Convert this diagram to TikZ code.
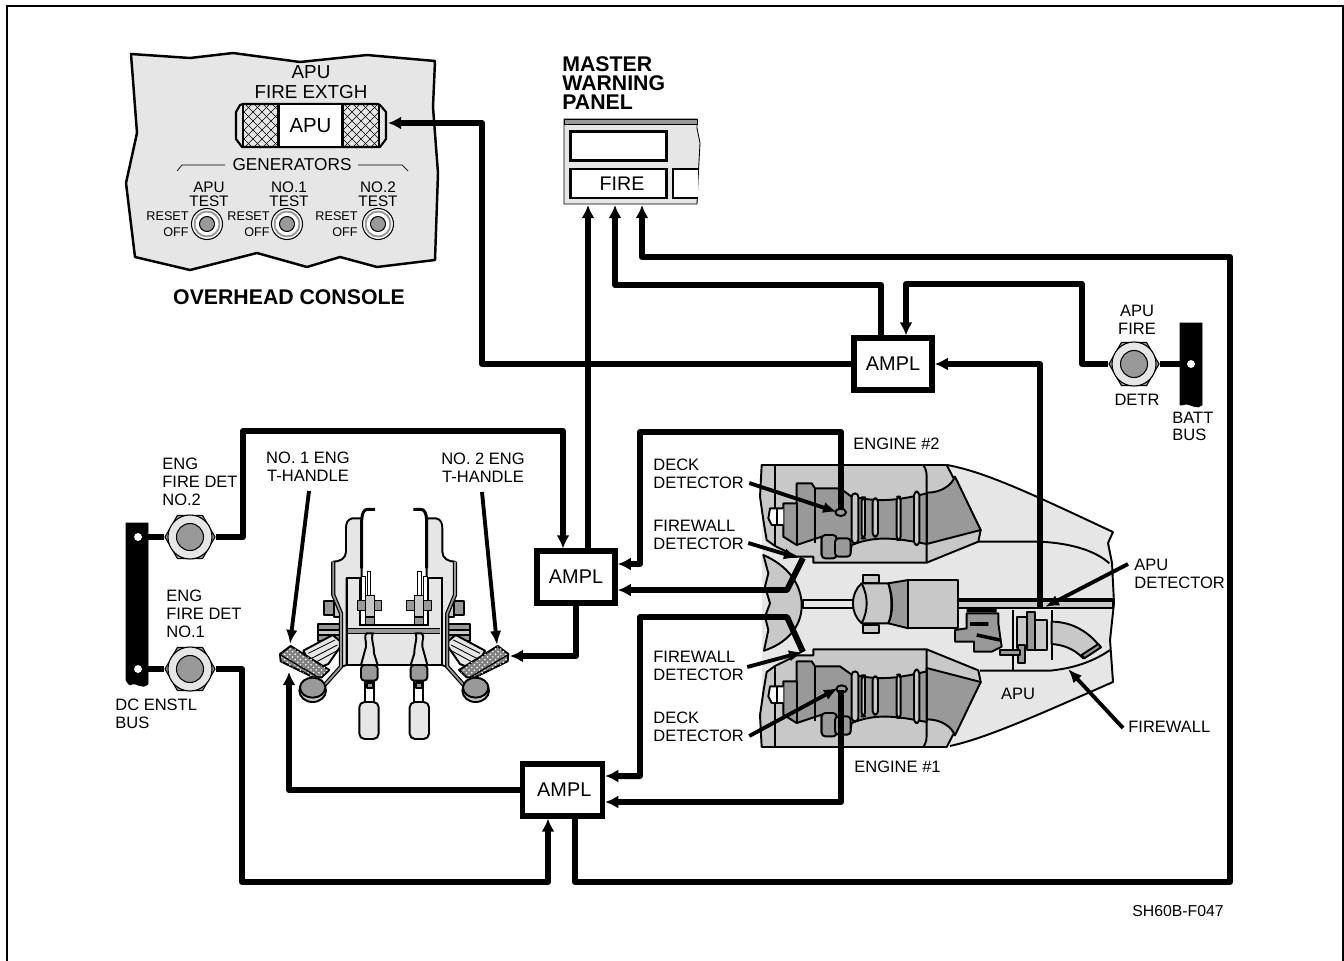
\documentclass[tikz,border=0pt]{standalone}
\usepackage{fontspec}
\setmainfont{Liberation Sans}
\usetikzlibrary{arrows.meta,shapes.geometric,patterns}
\definecolor{lightfill}{HTML}{E6E6E6}
\definecolor{softfill}{HTML}{C8C8C8}
\definecolor{darkfill}{HTML}{999999}
\tikzset{
  wire/.style={line width=3.4pt,line join=round,>={Latex[length=7.5pt,width=7.5pt]}},
  leader/.style={line width=2.2pt,>={Latex[length=8pt,width=6.5pt]}},
  amplbox/.style={draw,line width=3pt,fill=white,minimum width=44.5pt,minimum height=29.5pt,inner sep=0pt,font=\fontsize{11.3}{12}\selectfont},
  lbl/.style={inner sep=0pt,align=left,anchor=west,font=\fontsize{9.4}{10.1}\selectfont},
  lblc/.style={inner sep=0pt,align=center,font=\fontsize{9.4}{10.1}\selectfont},
  tiny/.style={inner sep=0pt,align=right,anchor=east,font=\fontsize{7.2}{9}\selectfont},
  title/.style={inner sep=0pt,align=left,font=\bfseries\fontsize{12.1}{10.8}\selectfont},
  nutbox/.style={regular polygon,regular polygon sides=6,draw,line width=.6pt,fill=darkfill,minimum size=28.5pt,inner sep=0pt},
  part/.style={draw,line width=1.1pt,line join=round},
  thin part/.style={draw,line width=.5pt},
  % one side of the engine bay, in 3x units
  nacelle half/.pic={
    \path[part,fill=softfill] (125,75) -- (680,75) -- (782,270) -- (775,305) -- (620,368) -- (280,368) -- (280,350) -- (230,350)
      -- (165,318) -- (140,300) -- (130,240) -- (120,170) -- cycle;
    \draw[part] (165,75) -- (165,318);
    % exhaust
    \path[part,fill=darkfill] (620,158) .. controls (665,158) and (695,135) .. (705,110) -- (782,270) -- (620,312) -- cycle;
    \draw[part] (610,75) .. controls (620,90) and (620,100) .. (620,120) -- (620,368);
  },
  engine core/.pic={
    \path[part,fill=darkfill] (190,190) -- (230,190) -- (230,130) -- (275,130) -- (285,145) -- (360,145) -- (395,170)
      .. controls (470,185) and (520,185) .. (620,160) -- (620,312) .. controls (530,295) and (470,285) .. (395,315)
      -- (390,345) -- (305,345) -- (305,290) -- (230,315) -- (190,290) -- cycle;
    \draw[part] (230,190) -- (230,315) (285,145) -- (285,310);
    \path[part,fill=darkfill,rounded corners=2pt] (305,285) rectangle (350,355);
    \path[part,fill=darkfill,rounded corners=2pt] (345,295) rectangle (392,350);
    % rings
    \foreach \ringx/\ringw/\ringa/\ringb in {395/20/160/310,425/10/172/295,458/16/175/290,530/12/170/300,582/16/155/315}
      \path[part,fill=softfill,rounded corners=2pt] (\ringx,\ringa) rectangle ++(\ringw,\ringb-\ringa);
    % bracket
    \path[part,fill=white] (190,205) -- (150,205) -- (145,235) -- (155,255) -- (190,255);
    \draw[part] (170,205) -- (170,255);
  },
  % one side of the handle group, in 3x units
  handle half/.pic={
    \path[part,fill=darkfill] (205,553) rectangle (290,603);
    \path[part,fill=softfill] (205,570) rectangle (290,585);
    \path[part,fill=lightfill] (160,632) -- (248,585) -- (278,610) -- (235,672) -- (190,690) -- cycle;
    \draw[thin part] (175,640) -- (255,600) (185,655) -- (262,615) (195,668) -- (265,630);
    \path[part,fill=darkfill] (222,483) rectangle (252,525);
    \path[part,fill=softfill] (252,478) rectangle (290,530);
    % side plate
    \path[part,fill=lightfill] (335,235) -- (307,235) .. controls (292,238) and (288,250) .. (288,265) -- (288,335)
      .. controls (288,355) and (270,365) .. (250,365) -- (250,465) -- (275,520) -- (275,680) -- (290,675) -- (290,415) -- (335,415) -- cycle;
    \draw[line width=2.4pt] (250,365) -- (250,465) -- (273,520) -- (273,680) -- (215,745);
    \draw[darkfill,line width=1pt] (250,365) -- (250,465) -- (273,520) -- (273,680) -- (215,745);
    % centre body
    \fill[lightfill] (290,415) -- (330,415) -- (330,555) -- (433,555) -- (433,675) -- (290,675) -- cycle;
    \draw[line width=1.3pt] (433,675) -- (290,675) -- (290,415) -- (330,415) -- (330,555) -- (433,555);
    \fill[darkfill] (295,565) rectangle (433,579);
    \draw[line width=.5pt] (295,565) -- (433,565) (295,579) -- (433,579);
    % rods inside
    \path[thin part,fill=white] (334,410) rectangle (345,490);
    \path[thin part,fill=white] (352,395) rectangle (362,500);
    \path[thin part,fill=darkfill] (322,480) rectangle (395,512);
    \path[thin part,fill=softfill] (345,465) rectangle (372,530);
    \path[thin part,fill=darkfill] (345,532) rectangle (372,553);
    \draw[line width=1.7pt] (375,208) -- (352,208) .. controls (342,208) and (336,220) .. (335,240) -- (335,385);
    % lever and grip
    \draw[line width=1.1pt,fill=lightfill] (348,620) .. controls (350,600) and (340,590) .. (350,580) -- (368,580)
      .. controls (362,600) and (372,610) .. (372,640) -- (383,675) -- (333,675) -- cycle;
    \path[part,fill=darkfill,rounded corners=2pt] (333,675) rectangle (383,722);
    \path[part,fill=white] (346,722) rectangle (372,788);
    \path[part,fill=darkfill] (350,730) rectangle (368,745);
    \path[part,fill=lightfill,rounded corners=3pt] (328,786) rectangle (386,897);
    % knob
    \path[part,fill=softfill] (188,752) ellipse (40 and 34);
    \path[part,fill=darkfill] (188,743) ellipse (38 and 30);
    % hatched grip
    \path[part,fill=gray] (90,642) -- (122,618) -- (238,690) -- (215,712) -- (190,712) -- (92,664) -- cycle;
    \fill[pattern=crosshatch dots,pattern color=white] (90,642) -- (122,618) -- (238,690) -- (215,712) -- (190,712) -- (92,664) -- cycle;
    \draw[line width=.7pt] (92,645) -- (205,712);
  },
}
\begin{document}
\begin{tikzpicture}[x=0.02cm,y=-0.02cm]
  \useasboundingbox (0,0) rectangle (1344,960);
  % outer frame
  \draw[line width=1.2pt] (7,970) -- (7,6) -- (1343,6) -- (1343,970);

  % overhead console
  \draw[line width=1.4pt,fill=lightfill,line join=round] (131,54) -- (190,58) -- (233,53) -- (300,62) -- (367,55) -- (435,61)
    -- (433,107) -- (438,173) -- (435,260) -- (377,267) -- (340,257) -- (307,267) -- (257,253) -- (190,270) -- (135,257)
    -- (126,183) -- (137,133) -- cycle;
  \node[lblc,font=\fontsize{10.7}{11.3}\selectfont] (lblextgh) at (311,82) {APU\\FIRE EXTGH};
  % fire extinguisher switch
  \begin{scope}
    \clip (243,104) rectangle (379,147);
    \foreach \k in {0,9,...,320} {
      \draw[line width=.25pt] (230+\k-160,100) -- (230+\k-100,160);
      \draw[line width=.25pt] (230+\k-100,100) -- (230+\k-160,160);
    }
  \end{scope}
  \draw[line width=1.2pt,line join=round] (243,104) -- (240,105) -- (236,112) -- (236,139) -- (242,147) -- (380,147) -- (386,139) -- (386,112) -- (380,105) -- (378,104) -- cycle;
  \draw[line width=.7pt] (243,104) -- (243,147) (379,104) -- (379,147);
  \node[draw,line width=1.3pt,fill=white,minimum width=36.5pt,minimum height=24.2pt,inner sep=0pt,font=\fontsize{11.6}{12}\selectfont] (extgh) at (310.5,125.5) {\raisebox{-1pt}{APU}};
  % generator switches
  \node[lblc,font=\fontsize{9.8}{11}\selectfont] (lblgen) at (292,165) {GENERATORS};
  \draw[line width=.4pt] (177,171) -- (182,165) -- (225,165) (358,165) -- (402,165) -- (408,171);
  \foreach \swname/\swx/\testx/\resetx/\swtext in {a/207/209/189/APU,b/287/289/270/NO.1,c/378/378/358/NO.2} {
    \node[lblc,font=\fontsize{8.7}{8}\selectfont] (gen\swname) at (\testx,194) {\swtext\\TEST};
    \node[tiny] (reset\swname) at (\resetx,216) {RESET};
    \node[tiny] (off\swname) at (\resetx,232) {OFF};
    \draw[line width=.6pt,fill=white] (\swx,224) circle (15.5);
    \draw[line width=1.1pt,darkfill,fill=white] (\swx,224) circle (12.5);
    \draw[line width=.6pt,fill=darkfill] (\swx,224) circle (7.5);
  }
  \node[title,anchor=center] (lblconsole) at (289,297) {OVERHEAD CONSOLE};

  % master warning panel
  \node[title,anchor=north west] (lblpanel) at (562,56) {MASTER\\WARNING\\PANEL};
  \draw[line width=.5pt,fill=lightfill] (564,119) -- (697,119) -- (697,128) -- (700,143) -- (698,180) -- (697,204) -- (564,204) -- cycle;
  \draw[line width=.5pt,fill=darkfill] (564,119) rectangle (697,124);
  \node[draw,line width=1.6pt,fill=white,minimum width=54.5pt,minimum height=16.5pt,inner sep=0pt] (paneltop) at (618.5,146) {};
  \node[draw,line width=1.6pt,fill=white,minimum width=54.5pt,minimum height=16.5pt,inner sep=0pt,font=\fontsize{11.2}{12}\selectfont] (panelfire) at (618.5,183.5) {\hspace*{4pt}FIRE};
  \draw[line width=1.6pt,fill=white] (698,169) -- (673,169) -- (673,198) -- (698,198);
  \coordinate (panela) at (588,205);
  \coordinate (panelb) at (615,205);
  \coordinate (panelc) at (642,205);

  % engine bay
  \fill[lightfill] (840,465) -- (947,465) .. controls (987,472) and (1040,498) .. (1113,532) -- (1108,543) -- (1112,563) -- (1114,603) -- (1110,640) -- (1113,682)
    .. controls (1040,714) and (987,738) .. (950,746) -- (762,746) -- (762,465) -- cycle;
  \draw[line width=1.1pt,line join=round] (947,465) .. controls (987,472) and (1040,498) .. (1113,532) -- (1108,543) -- (1112,563) -- (1114,603) -- (1110,640) -- (1113,682)
    .. controls (1040,714) and (987,738) .. (950,746);
  \begin{scope}[shift={(720,440)},x=0.00667cm,y=-0.00667cm]
    % firewall bulge
    \path[part,fill=softfill] (130,345) .. controls (200,375) and (245,430) .. (245,497) .. controls (245,560) and (200,610) .. (132,632)
      -- (145,570) -- (135,530) -- (150,490) -- (135,440) -- (145,400) -- cycle;
    % tube
    \path[part,fill=lightfill] (250,480) rectangle (420,505);
    \path[part,fill=softfill] (715,480) rectangle (1178,505);
    \draw[line width=2.2pt] (715,480) -- (1178,480);
    % apu turbine
    \path[part,fill=softfill] (430,405) rectangle (478,430);
    \path[part,fill=softfill] (430,555) rectangle (478,580);
    \path[part,fill=softfill] (425,430) -- (505,430) .. controls (520,480) and (515,530) .. (505,550) -- (425,550) .. controls (390,520) and (390,460) .. (425,430) -- cycle;
    \draw[part] (425,430) .. controls (445,470) and (445,510) .. (425,550);
    \path[part,fill=darkfill] (505,430) -- (565,420) -- (565,565) -- (505,550) .. controls (520,520) and (520,470) .. (505,430) -- cycle;
    \path[part,fill=softfill] (565,420) rectangle (715,565);
    % accessory section
    \path[part,fill=darkfill] (740,520) -- (835,520) -- (835,550) -- (842,600) -- (845,620) -- (815,635) -- (762,635) -- (762,605) -- (705,605) -- (705,570) -- (740,565) -- cycle;
    \draw[line width=2pt] (740,512) -- (830,512) (750,552) -- (805,552) (770,585) -- (840,600);
    \draw[part] (880,510) -- (880,690) (995,510) -- (995,660);
    \path[part,fill=softfill] (890,530) rectangle (920,625);
    \path[part,fill=darkfill] (920,515) rectangle (945,630);
    \path[part,fill=softfill] (945,540) rectangle (980,630);
    \path[part,fill=darkfill] (895,615) rectangle (915,668);
    \path[part,fill=darkfill] (840,630) rectangle (900,645);
    % exhaust pipe
    \path[part,fill=softfill] (995,545) .. controls (1060,545) and (1110,580) .. (1140,620) -- (1090,655) .. controls (1060,625) and (1030,615) .. (995,612) -- cycle;
    \path[part,fill=darkfill] (1085,645) -- (1135,612) -- (1143,622) -- (1093,655) -- cycle;
    % firewall line
    \draw[part] (780,692) -- (990,692) .. controls (1060,685) and (1120,665) .. (1170,630);
    \draw[part] (775,305) -- (960,305) .. controls (1060,310) and (1130,335) .. (1168,370);
    \draw[part] (995,505) -- (1175,505);
    % engine 2, then engine 1 in the lower nacelle
    \pic at (0,0) {nacelle half};
    \pic at (0,0) {engine core};
    \draw[part] (362,217) ellipse (16 and 11);
  \end{scope}
  \begin{scope}[shift={(720,772)},x=0.00667cm,y=0.00667cm]
    \pic at (0,0) {nacelle half};
  \end{scope}
  \begin{scope}[shift={(720,618)},x=0.00667cm,y=-0.00667cm]
    \pic at (0,0) {engine core};
    \draw[part] (365,213) ellipse (16 and 11);
  \end{scope}

  % handles
  \begin{scope}[shift={(250,440)},x=0.00667cm,y=-0.00667cm]
    \pic at (0,0) {handle half};
  \end{scope}
  \begin{scope}[shift={(538.33,440)},x=-0.00667cm,y=-0.00667cm]
    \pic at (0,0) {handle half};
  \end{scope}

  % buses
  \draw[fill=black,line width=.4pt] (126,523) -- (148,523) -- (148,684) .. controls (142,690) and (136,682) .. (132,684) .. controls (130,686) and (128,684) .. (126,680) -- cycle;
  \draw[fill=black,line width=.4pt] (1180,323) -- (1202,323) -- (1202,405) .. controls (1198,410) and (1190,404) .. (1186,404) .. controls (1184,404) and (1182,406) .. (1180,405) -- cycle;
  \node[circle,fill=white,inner sep=0pt,minimum size=4.5pt] (holea) at (138,537) {};
  \node[circle,fill=white,inner sep=0pt,minimum size=4.5pt] (holeb) at (138,669) {};
  \node[circle,fill=white,inner sep=0pt,minimum size=4.5pt] (holec) at (1191,364) {};

  % detector switches
  \node[nutbox] (nuttwo) at (190,537) {};
  \node[nutbox] (nutone) at (190,669) {};
  \node[nutbox] (nutapu) at (1134,364) {};
  \foreach \nutx/\nuty in {190/537,190/669,1134/364} {
    \draw[line width=.6pt,fill=lightfill] (\nutx,\nuty) circle (22);
    \draw[line width=.6pt,fill=darkfill] (\nutx,\nuty) circle (13.5);
  }

  % amplifiers
  \node[amplbox] (ampltop) at (893,364) {AMPL};
  \node[amplbox] (amplmid) at (576,577) {AMPL};
  \node[amplbox,minimum width=45.5pt] (amplbot) at (562.5,790) {\hspace*{2pt}AMPL};

  % free ends of the wires
  \coordinate (extghin) at (388,123);
  \coordinate (detdecktwo) at (841,510);
  \coordinate (detdeckone) at (841,690);
  \coordinate (detwalltwo) at (803,558);
  \coordinate (detwallone) at (803,652);
  \coordinate (detapu) at (1040,607);
  \coordinate (handleone) at (289,672);
  \coordinate (handletwo) at (510,656);

  % wires
  \draw[wire,->] (amplmid.north -| panela) -- (panela);
  \draw[wire,->] (ampltop.north -| 881,0) -- (881,285) -- (615,285) -- (panelb);
  \draw[wire,->] (amplbot.south -| 575,0) -- (575,882) -- (1230,882) -- (1230,257) -- (642,257) -- (panelc);
  \draw[wire,->] (ampltop.west) -- (482,364) -- (482,123) -- (extghin);
  \draw[wire,->] (nutapu.west) -- (1082,364) -- (1082,284) -- (906,284) -- (ampltop.north -| 906,0);
  \draw[wire] (holec) -- (nutapu.east);
  \draw[wire,->] (detapu) -- (1040,364) -- (ampltop.east);
  \draw[wire,->] (nuttwo.east) -- (243,537) -- (243,431) -- (563,431) -- (amplmid.north -| 563,0);
  \draw[wire,->] (detdecktwo) -- (841,432) -- (640,432) -- (640,564) -- (amplmid.east |- 0,564);
  \draw[wire,->] (detwalltwo) -- (787,590) -- (amplmid.east |- 0,590);
  \draw[wire,->] (amplmid.south) -- (576,656) -- (handletwo);
  \draw[wire,->] (detwallone) -- (787,617) -- (640,617) -- (640,776) -- (amplbot.east |- 0,776);
  \draw[wire,->] (detdeckone) -- (841,802) -- (amplbot.east |- 0,802);
  \draw[wire,->] (amplbot.west) -- (289,790) -- (handleone);
  \draw[wire,->] (nutone.east) -- (242,669) -- (242,882) -- (548,882) -- (amplbot.south -| 548,0);
  \draw[wire] (holea) -- (nuttwo.west);
  \draw[wire] (holeb) -- (nutone.west);

  % labels and pointers
  \node[lbl] (lblengtwo) at (162,482) {ENG\\FIRE DET\\NO.2};
  \node[lbl] (lblengone) at (166,614) {ENG\\FIRE DET\\NO.1};
  \node[lbl] (lblbus) at (115,713.5) {DC ENSTL\\BUS};
  \node[lblc] (lblhone) at (308,467) {NO. 1 ENG\\T-HANDLE};
  \node[lblc] (lblhtwo) at (483,468) {NO. 2 ENG\\T-HANDLE};
  \coordinate (ptrhone) at (290,644);
  \coordinate (ptrhtwo) at (497,645);
  \draw[leader,->] (lblhone.south) ++(1,9) -- (ptrhone);
  \draw[leader,->] (lblhtwo.south) ++(-1,9) -- (ptrhtwo);
  \node[lblc] (lblfire) at (1137,320) {APU\\FIRE};
  \node[lblc] (lbldetr) at (1137,400) {DETR};
  \node[lbl] (lblbatt) at (1172,426.5) {BATT\\BUS};
  \node[lbl] (lblenginetwo) at (853,444) {ENGINE \#2};
  \node[lbl] (lblengineone) at (854,767) {ENGINE \#1};
  \node[lbl] (lbldecktwo) at (653,474) {DECK\\DETECTOR};
  \node[lbl] (lblwalltwo) at (653,535) {FIREWALL\\DETECTOR};
  \node[lbl] (lblwallone) at (653,666) {FIREWALL\\DETECTOR};
  \node[lbl] (lbldeckone) at (653,727) {DECK\\DETECTOR};
  \node[lbl] (lblapudet) at (1134,574) {APU\\DETECTOR};
  \node[lbl] (lblwall) at (1128,727) {FIREWALL};
  \node[lblc] (lblapu) at (1018,694) {APU};
  \node[inner sep=0pt,anchor=west,font=\fontsize{9}{10}\selectfont] (lblcode) at (1132,911) {SH60B-F047};
  \coordinate (ptrdecktwo) at (837,512);
  \coordinate (ptrwalltwo) at (798,558);
  \coordinate (ptrwallone) at (803,652);
  \coordinate (ptrdeckone) at (838,688);
  \coordinate (ptrapu) at (1045,607);
  \coordinate (ptrwall) at (1068,669);
  \draw[leader,->] (lbldecktwo.east |- 0,483) ++(5,0) -- (ptrdecktwo);
  \draw[leader,->] (lblwalltwo.east |- 0,543) ++(4,0) -- (ptrwalltwo);
  \draw[leader,->] (lblwallone.east |- 0,667) ++(3,0) -- (ptrwallone);
  \draw[leader,->] (lbldeckone.east |- 0,736) ++(5,0) -- (ptrdeckone);
  \draw[leader,->] (lblapudet.west |- 0,564) ++(-6,0) -- (ptrapu);
  \draw[leader,->] (lblwall.west) ++(-5,1) -- (ptrwall);
\end{tikzpicture}
\end{document}
